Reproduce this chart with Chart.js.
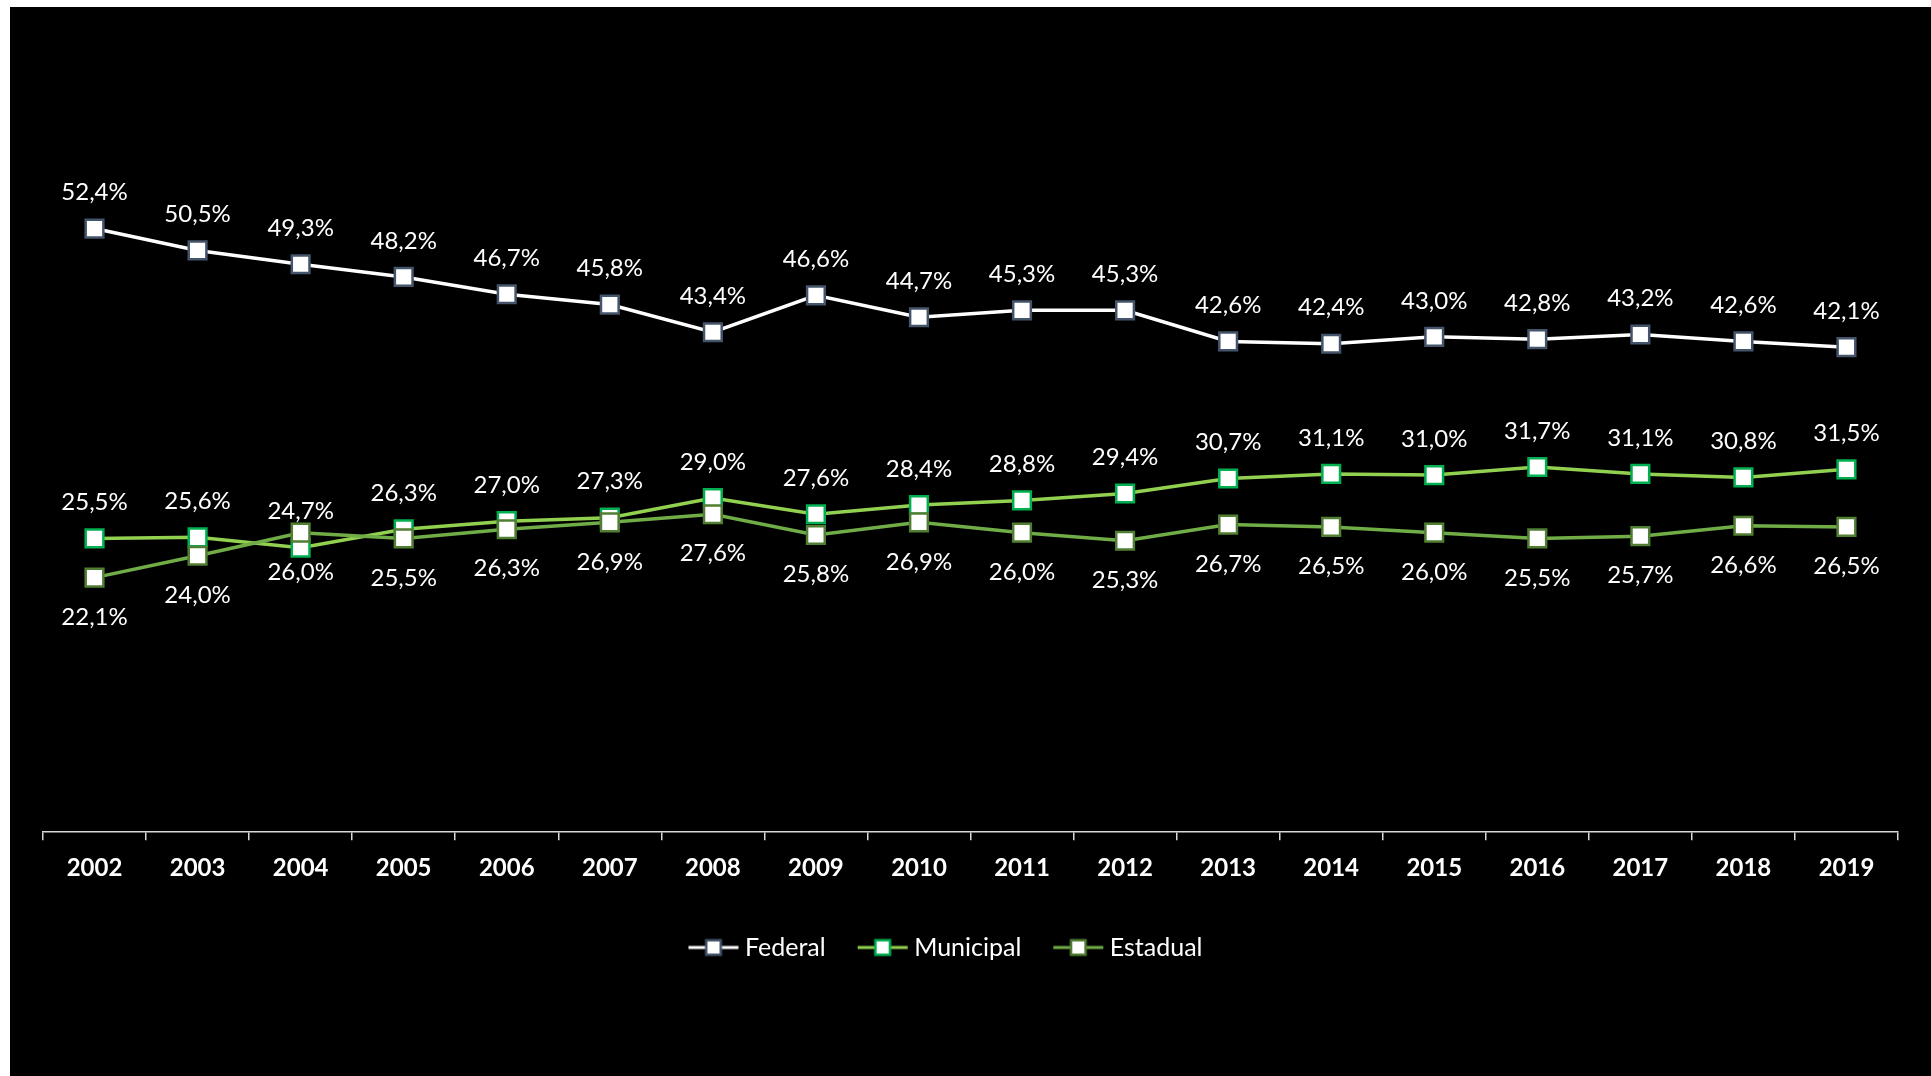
<!DOCTYPE html>
<html lang="pt-BR">
<head>
<meta charset="utf-8">
<title>Participação por esfera de governo, 2002-2019</title>
<script src="https://cdn.jsdelivr.net/npm/chart.js@4.4.1/dist/chart.umd.min.js"></script>
<style>
  html, body { margin: 0; padding: 0; background: #fff; }
  #wrap { position: absolute; left: 10px; top: 7px; width: 1921px; height: 1069px; background: #000; }
</style>
</head>
<body>
<div id="wrap"><canvas id="mainChart"></canvas></div>
<script>
// Share (%) per government level, year by year
const years = ['2002', '2003', '2004', '2005', '2006', '2007', '2008', '2009', '2010',
               '2011', '2012', '2013', '2014', '2015', '2016', '2017', '2018', '2019'];
const federal   = [52.4, 50.5, 49.3, 48.2, 46.7, 45.8, 43.4, 46.6, 44.7, 45.3, 45.3, 42.6, 42.4, 43.0, 42.8, 43.2, 42.6, 42.1];
const municipal = [25.5, 25.6, 24.7, 26.3, 27.0, 27.3, 29.0, 27.6, 28.4, 28.8, 29.4, 30.7, 31.1, 31.0, 31.7, 31.1, 30.8, 31.5];
const estadual  = [22.1, 24.0, 26.0, 25.5, 26.3, 26.9, 27.6, 25.8, 26.9, 26.0, 25.3, 26.7, 26.5, 26.0, 25.5, 25.7, 26.6, 26.5];

const FONT = "Lato, 'Open Sans', sans-serif";

const fmt = v => v.toFixed(1).replace('.', ',') + '%';

// Legend swatch: short line with the square marker in the middle
function makeSwatch(lineColor, borderColor) {
  const c = document.createElement('canvas');
  c.width = 52;
  c.height = 22;
  const g = c.getContext('2d');
  g.strokeStyle = lineColor;
  g.lineWidth = 3;
  g.beginPath();
  g.moveTo(1, 11);
  g.lineTo(51, 11);
  g.stroke();
  g.fillStyle = '#fff';
  g.fillRect(18.75, 3.75, 14.5, 14.5);
  g.strokeStyle = borderColor;
  g.lineWidth = 2.5;
  g.strokeRect(18.75, 3.75, 14.5, 14.5);
  return c;
}

// Value labels above / below each point
const pointLabels = {
  id: 'pointLabels',
  afterDatasetsDraw(chart) {
    const ctx = chart.ctx;
    ctx.save();
    ctx.font = '24px ' + FONT;
    ctx.fillStyle = '#fff';
    ctx.textAlign = 'center';
    ctx.textBaseline = 'middle';
    chart.data.datasets.forEach((ds, i) => {
      const meta = chart.getDatasetMeta(i);
      const dy = ds.labelSide === 'below' ? 39.5 : -36;
      meta.data.forEach((pt, j) => {
        ctx.fillText(fmt(ds.data[j]), pt.x, pt.y + dy);
      });
    });
    ctx.restore();
  }
};

// Nudge the legend a bit to the left of centre
const legendShift = {
  id: 'legendShift',
  afterLayout(chart) {
    chart.legend.left -= 22;
    chart.legend.right -= 22;
  }
};

function series(label, data, lineColor, markerBorder, side, order) {
  return {
    label: label,
    data: data,
    borderColor: lineColor,
    borderWidth: 3.5,
    pointStyle: 'rect',
    pointRadius: 12.5,
    pointHoverRadius: 12.5,
    pointBackgroundColor: '#fff',
    pointBorderColor: markerBorder,
    pointBorderWidth: 2.5,
    tension: 0,
    order: order,
    labelSide: side,
    swatch: makeSwatch(lineColor, markerBorder)
  };
}

const ctx = document.getElementById('mainChart').getContext('2d');

new Chart(ctx, {
  type: 'line',
  data: {
    labels: years,
    datasets: [
      series('Federal', federal, '#ffffff', '#44546a', 'above', 3),
      series('Municipal', municipal, '#92d050', '#00b050', 'above', 2),
      series('Estadual', estadual, '#70ad47', '#507e32', 'below', 1)
    ]
  },
  plugins: [pointLabels, legendShift],
  options: {
    responsive: true,
    maintainAspectRatio: false,
    animation: false,
    events: [],
    layout: {
      padding: { top: 134, left: 33, right: 33, bottom: 106 }
    },
    plugins: {
      legend: {
        display: true,
        position: 'bottom',
        labels: {
          color: '#fff',
          font: { family: FONT, size: 25 },
          usePointStyle: true,
          pointStyleWidth: 38,
          padding: 38,
          generateLabels(chart) {
            const items = Chart.defaults.plugins.legend.labels.generateLabels(chart);
            items.sort((a, b) => a.datasetIndex - b.datasetIndex);
            items.forEach(it => {
              it.pointStyle = chart.data.datasets[it.datasetIndex].swatch;
            });
            return items;
          }
        }
      },
      tooltip: { enabled: false }
    },
    scales: {
      x: {
        offset: true,
        grid: {
          display: true,
          offset: true,
          drawOnChartArea: false,
          drawTicks: true,
          tickLength: 8,
          color: '#d9d9d9',
          lineWidth: 1.5
        },
        border: { display: true, color: '#d9d9d9', width: 1.5 },
        ticks: {
          color: '#fff',
          font: { family: FONT, size: 24, weight: 'bold' },
          padding: 14
        }
      },
      y: {
        display: false,
        min: 0,
        max: 60
      }
    }
  }
});
</script>
</body>
</html>
